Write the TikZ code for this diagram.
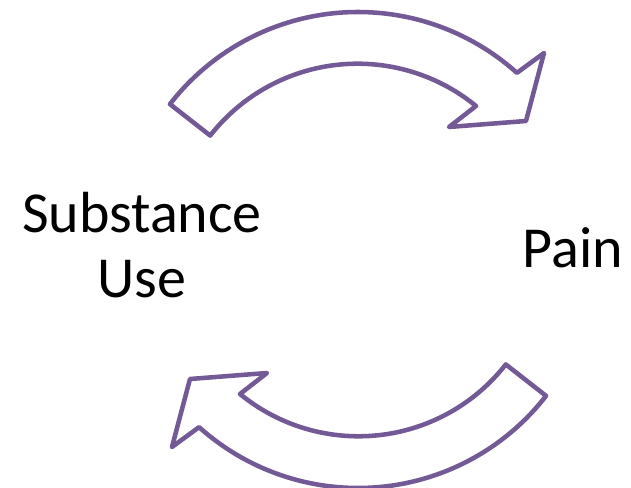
\documentclass[tikz,border=0pt]{standalone}
\usepackage{fontspec}
\setmainfont{Carlito}
\usepackage{xcolor}
\usepackage{tikz}
\definecolor{arrowpurple}{RGB}{115,90,150}

\begin{document}
\begin{tikzpicture}[x=0.75pt,y=0.75pt,
  cyclearrow/.style={draw=arrowpurple,line width=3.4pt,line join=round},
  labeltext/.style={font=\fontsize{43.5}{48.75}\selectfont,align=center}]
\def\toparrow{(142.2:238) arc (142.2:48.1:238) -- (186,197) -- (168,129) -- (91,123) -- (118,144) arc (50.7:142:187) -- cycle}
  \useasboundingbox (-358,-238) rectangle (273,250);
  \draw[cyclearrow] \toparrow;
  \draw[cyclearrow,rotate=180] \toparrow;
  \node[labeltext,anchor=base] (subst) at (-216,-48) {Substance\\Use};
  \node[labeltext,anchor=base] (pain) at (215,-18) {Pain};
\end{tikzpicture}
\end{document}
